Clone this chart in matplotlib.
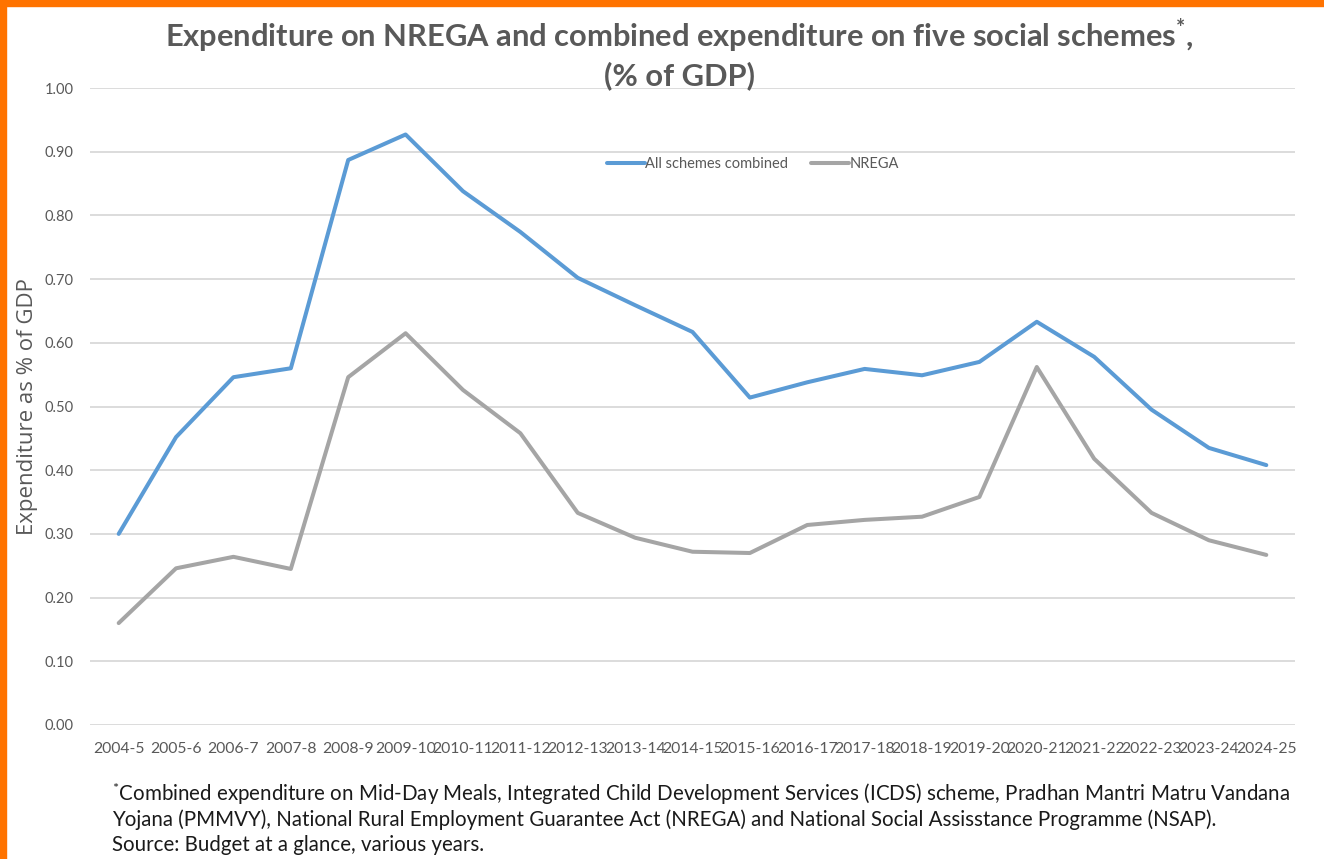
import matplotlib.pyplot as plt
from matplotlib.patches import Rectangle

plt.rcParams['font.family'] = ['Lato', 'DejaVu Sans']
plt.rcParams['mathtext.default'] = 'regular'

years = ['2004-5', '2005-6', '2006-7', '2007-8', '2008-9', '2009-10', '2010-11',
         '2011-12', '2012-13', '2013-14', '2014-15', '2015-16', '2016-17',
         '2017-18', '2018-19', '2019-20', '2020-21', '2021-22', '2022-23',
         '2023-24', '2024-25']
all_schemes = [0.300, 0.452, 0.546, 0.560, 0.887, 0.927, 0.838, 0.774, 0.702,
               0.659, 0.617, 0.514, 0.538, 0.559, 0.549, 0.570, 0.633, 0.578,
               0.495, 0.435, 0.408]
nrega = [0.160, 0.246, 0.264, 0.245, 0.546, 0.615, 0.526, 0.458, 0.333,
         0.294, 0.272, 0.270, 0.314, 0.322, 0.327, 0.358, 0.562, 0.418,
         0.333, 0.290, 0.267]
yticks = [0.0, 0.1, 0.2, 0.3, 0.4, 0.5, 0.6, 0.7, 0.8, 0.9, 1.0]

footnote_lines = [
    '$^{*}$Combined expenditure on Mid-Day Meals, Integrated Child Development Services '
    '(ICDS) scheme, Pradhan Mantri Matru Vandana',
    'Yojana (PMMVY), National Rural Employment Guarantee Act (NREGA) and National '
    'Social Assisstance Programme (NSAP).',
    'Source: Budget at a glance, various years.',
]

text_grey = '#595959'

fig = plt.figure(figsize=(13.24, 8.59), dpi=100)
fig.patch.set_facecolor('white')
# orange frame strips along top and left
fig.patches.append(Rectangle((0, 1 - 6 / 859), 1, 6 / 859, transform=fig.transFigure,
                             color='#FF7300', zorder=10))
fig.patches.append(Rectangle((0, 0), 6 / 1324, 1, transform=fig.transFigure,
                             color='#FF7300', zorder=10))

ax = fig.add_axes([90 / 1324, 1 - 725 / 859, (1295 - 90) / 1324, (725 - 88) / 859])
x = range(len(years))
ax.plot(x, all_schemes, color='#5B9BD5', lw=2.9, label='All schemes combined',
        solid_joinstyle='round', solid_capstyle='round')
ax.plot(x, nrega, color='#A5A5A5', lw=2.9, label='NREGA',
        solid_joinstyle='round', solid_capstyle='round')

ax.set_xlim(-0.5, len(years) - 0.5)
ax.set_ylim(0, 1.0)
ax.set_yticks(yticks)
ax.set_yticklabels([f'{v:.2f}' for v in yticks])
ax.set_xticks(list(x))
ax.set_xticklabels(years)
ax.tick_params(axis='both', length=0, colors=text_grey)
ax.tick_params(axis='x', pad=12, labelsize=11.3)
ax.tick_params(axis='y', pad=12, labelsize=10.5)
ax.grid(axis='y', color='#D9D9D9', lw=1.3)
ax.set_axisbelow(True)
for s in ax.spines.values():
    s.set_visible(False)

ax.set_ylabel('Expenditure as % of GDP', fontsize=16, color=text_grey,
              family=['Open Sans', 'DejaVu Sans'])
ax.yaxis.set_label_coords(-0.043, 0.5)

ax.legend(loc='center', bbox_to_anchor=(0.55, 0.881), ncol=2, frameon=False,
          fontsize=10.5, handlelength=2.6, handletextpad=0.0, columnspacing=1.6,
          labelcolor=text_grey)

fig.text(0.513, 1 - 36 / 859,
         'Expenditure on NREGA and combined expenditure on five social schemes$^{*}$,',
         ha='center', va='center', fontsize=22.2, fontweight='bold', color=text_grey)
fig.text(0.513, 1 - 76 / 859, '(% of GDP)', ha='center', va='center',
         fontsize=22.2, fontweight='bold', color=text_grey)

for i, line in enumerate(footnote_lines):
    fig.text(112 / 1324, 1 - (794 + 25.5 * i) / 859, line, ha='left', va='center',
             fontsize=14.8, color='#1a1a1a')

fig.savefig('out.png', dpi=100, facecolor='white')
